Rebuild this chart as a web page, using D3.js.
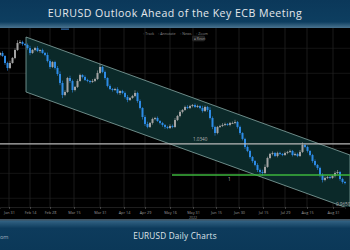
<!DOCTYPE html>
<html>
<head>
<meta charset="utf-8">
<script src="https://cdn.jsdelivr.net/npm/d3@7"></script>
<style>
html, body { margin: 0; padding: 0; background: #000; }
svg { display: block; font-family: "Open Sans", sans-serif; }
</style>
</head>
<body>
<svg id="chart" width="350" height="250"></svg>
<script>
// daily closes EURUSD (one per trading day shown)
var closes = [
  1.1351, 1.1318, 1.1240, 1.1185, 1.1240, 1.1296, 1.1384, 1.1462, 1.1473, 1.1451,
  1.1440, 1.1406, 1.1351, 1.1384, 1.1406, 1.1373, 1.1384, 1.1351, 1.1329, 1.1262,
  1.1196, 1.1251, 1.1185, 1.1118, 1.1019, 1.0886, 1.0919, 1.1074, 1.1041, 1.0941,
  1.0975, 1.1041, 1.1107, 1.1085, 1.1052, 1.1041, 1.1030, 1.1041, 1.1063, 1.1130,
  1.1196, 1.1141, 1.1074, 1.0986, 1.0952, 1.0941, 1.0952, 1.0908, 1.0930, 1.0908,
  1.0864, 1.0831, 1.0853, 1.0875, 1.0908, 1.0819, 1.0742, 1.0642, 1.0565, 1.0532,
  1.0576, 1.0620, 1.0631, 1.0598, 1.0576, 1.0554, 1.0532, 1.0520, 1.0543, 1.0532,
  1.0609, 1.0653, 1.0698, 1.0720, 1.0753, 1.0742, 1.0764, 1.0775, 1.0753, 1.0764,
  1.0742, 1.0709, 1.0753, 1.0720, 1.0631, 1.0532, 1.0465, 1.0532, 1.0543, 1.0554,
  1.0565, 1.0554, 1.0576, 1.0576, 1.0587, 1.0532, 1.0465, 1.0399, 1.0310, 1.0266,
  1.0199, 1.0155, 1.0111, 1.0055, 1.0033, 1.0022, 1.0089, 1.0188, 1.0233, 1.0244,
  1.0210, 1.0244, 1.0233, 1.0221, 1.0244, 1.0255, 1.0266, 1.0221, 1.0233, 1.0210,
  1.0255, 1.0332, 1.0310, 1.0266, 1.0221, 1.0155, 1.0111, 1.0078, 1.0000, 0.9945,
  0.9967, 0.9978, 0.9967, 0.9989, 1.0022, 1.0033, 0.9956, 0.9922, 0.9911
];
var firstOpen = 1.1330;

// wick length above / below the body, in pips
var wickHi = [
  12, 20, 8, 15, 25, 10, 18, 30, 22, 14,
  9, 16, 24, 11, 13, 20, 8, 15, 12, 27,
  18, 10, 14, 22, 30, 26, 19, 12, 25, 16,
  11, 20, 15, 9, 17, 13, 10, 21, 14, 28,
  35, 12, 16, 9, 18, 11, 14, 20, 8, 13,
  16, 22, 10, 12, 30, 14, 18, 9, 20, 25,
  11, 15, 13, 17, 9, 12, 10, 14, 19, 16,
  22, 12, 18, 10, 15, 20, 13, 11, 17, 14,
  9, 25, 16, 12, 30, 18, 14, 11, 13, 20,
  15, 10, 12, 16, 24, 11, 15, 9, 13, 18,
  14, 12, 10, 20, 16, 25, 28, 15, 12, 18,
  11, 14, 13, 10, 16, 12, 15, 11, 17, 14,
  22, 30, 12, 15, 10, 13, 18, 11, 14, 20,
  16, 12, 15, 11, 18, 22, 10, 14, 12
];
var wickLo = [
  15, 10, 22, 30, 12, 8, 14, 10, 16, 20,
  12, 18, 25, 10, 15, 12, 20, 9, 14, 16,
  22, 12, 18, 20, 25, 35, 14, 10, 22, 28,
  15, 12, 9, 16, 11, 14, 18, 10, 13, 12,
  10, 14, 20, 16, 12, 18, 10, 15, 22, 13,
  18, 25, 12, 10, 14, 20, 16, 28, 22, 15,
  12, 18, 14, 10, 16, 20, 22, 13, 11, 15,
  10, 12, 14, 16, 9, 13, 11, 15, 12, 10,
  14, 18, 12, 20, 16, 25, 30, 14, 12, 11,
  13, 10, 15, 12, 14, 18, 20, 16, 22, 14,
  18, 20, 15, 22, 25, 30, 12, 10, 14, 16,
  12, 15, 11, 13, 10, 14, 12, 16, 11, 13,
  10, 12, 14, 18, 15, 20, 16, 22, 25, 28,
  15, 12, 14, 10, 16, 12, 20, 18, 15
];

// x axis ticks (position in trading-day index) and labels
var tickIdx = [3.6, 12, 20, 29.6, 40, 49.6, 58, 68, 77.2, 86.4, 95.6, 105.2, 114, 122.8, 133.2];
var tickLabels = ["Jan 31", "Feb 14", "Feb 28", "Mar 15", "Mar 31", "Apr 14", "Apr 29", "May 16",
                  "May 31", "Jun 15", "Jun 30", "Jul 15", "Jul 29", "Aug 15", "Aug 31"];
var gridPrices = [1.1403, 1.1126, 1.0849, 1.0572, 1.0295, 1.0018, 0.9742];

// descending channel (index, upper, lower)
var chanIdx = [10.4, 140];
var chanUpper = [1.1528, 1.0221];
var chanLower = [1.0919, 0.9623];

var resistLevel = 1.0345;
var parityLevel = 1.0000;
var parityStart = 68.8;

var toolbarItems = ["Track", "Annotate", "News", "Zoom"];

var svg = d3.select("#chart");
var W = 350, H = 250;
var plotTop = 28, plotBottom = 219, axisY = 207;

var x = d3.scaleLinear().domain([0, closes.length - 1]).range([0, 345]);
var y = d3.scaleLinear().domain([0.96, 1.16]).range([211.1, 30.5]);

var defs = svg.append("defs");
var hg = defs.append("linearGradient").attr("id", "headG").attr("x1", 0).attr("y1", 0).attr("x2", 0).attr("y2", 1);
hg.append("stop").attr("offset", "0%").attr("stop-color", "#0b385a");
hg.append("stop").attr("offset", "78%").attr("stop-color", "#0d3e60");
hg.append("stop").attr("offset", "100%").attr("stop-color", "#4a7490");
var fg = defs.append("linearGradient").attr("id", "footG").attr("x1", 0).attr("y1", 0).attr("x2", 0).attr("y2", 1);
fg.append("stop").attr("offset", "0%").attr("stop-color", "#46515a");
fg.append("stop").attr("offset", "8%").attr("stop-color", "#2f5f80");
fg.append("stop").attr("offset", "30%").attr("stop-color", "#0d3b5c");
fg.append("stop").attr("offset", "100%").attr("stop-color", "#0b3858");
defs.append("clipPath").attr("id", "plotClip").append("rect")
    .attr("x", 0).attr("y", plotTop).attr("width", W).attr("height", axisY - plotTop);

// background
svg.append("rect").attr("width", W).attr("height", H).attr("fill", "#000");

// grid
var grid = svg.append("g");
grid.selectAll(".hg").data(gridPrices).enter().append("line")
    .attr("x1", 0).attr("x2", W)
    .attr("y1", function (d) { return y(d); }).attr("y2", function (d) { return y(d); })
    .attr("stroke", "#1d1d1d").attr("stroke-width", 0.7);
grid.selectAll(".vg").data(tickIdx).enter().append("line")
    .attr("x1", function (d) { return x(d); }).attr("x2", function (d) { return x(d); })
    .attr("y1", plotTop).attr("y2", axisY)
    .attr("stroke", "#262626").attr("stroke-width", 0.7);

var plot = svg.append("g").attr("clip-path", "url(#plotClip)");

// channel
var chanPts = [
    [x(chanIdx[0]), y(chanUpper[0])], [x(chanIdx[1]), y(chanUpper[1])],
    [x(chanIdx[1]), y(chanLower[1])], [x(chanIdx[0]), y(chanLower[0])]
];
plot.append("polygon")
    .attr("points", chanPts.map(function (p) { return p.join(","); }).join(" "))
    .attr("fill", "#0b2929").attr("stroke", "#86a8a4").attr("stroke-width", 0.8);

// candles
var candles = closes.map(function (c, i) {
    var o = i == 0 ? firstOpen : closes[i - 1];
    return {i: i, o: o, c: c, h: Math.max(o, c) + wickHi[i] / 10000, l: Math.min(o, c) - wickLo[i] / 10000};
});
var cg = plot.append("g");
candles.forEach(function (d) {
    var col = d.c >= d.o ? "#a3a3a3" : "#2d8be6";
    var cx = x(d.i);
    cg.append("line").attr("x1", cx).attr("x2", cx)
        .attr("y1", y(d.h)).attr("y2", y(d.l))
        .attr("stroke", col).attr("stroke-width", 0.6);
    var top = y(Math.max(d.o, d.c)), bot = y(Math.min(d.o, d.c));
    cg.append("rect").attr("x", cx - 1).attr("width", 2)
        .attr("y", top).attr("height", Math.max(0.9, bot - top))
        .attr("fill", col);
});

// horizontal levels
plot.append("line").attr("x1", 0).attr("x2", W)
    .attr("y1", y(resistLevel)).attr("y2", y(resistLevel))
    .attr("stroke", "#b9b9b9").attr("stroke-width", 1.3);
plot.append("line").attr("x1", x(parityStart)).attr("x2", W)
    .attr("y1", y(parityLevel)).attr("y2", y(parityLevel))
    .attr("stroke", "#3cb43c").attr("stroke-width", 1.3);

var lblStyle = function (t) { return t.attr("font-size", 4.6).attr("fill", "#b5b5b5"); };
lblStyle(svg.append("text").attr("x", 193).attr("y", y(resistLevel) - 2.5).text("1.0340"));
lblStyle(svg.append("text").attr("x", 228).attr("y", y(parityLevel) + 6).text("1"));
lblStyle(svg.append("text").attr("x", 336).attr("y", 206).attr("fill", "#9fb5b2").text("0.9650"));

// x axis
var xAxis = d3.axisBottom(x).tickValues(tickIdx)
    .tickFormat(function (d, i) { return tickLabels[i]; })
    .tickSize(2).tickPadding(2);
var ax = svg.append("g").attr("transform", "translate(0," + axisY + ")").call(xAxis);
ax.select(".domain").attr("stroke", "#333").attr("stroke-width", 0.6);
ax.selectAll(".tick line").attr("stroke", "#777").attr("stroke-width", 0.5);
ax.selectAll(".tick text").attr("fill", "#9a9a9a").attr("font-size", 3.8)
    .attr("font-family", "Open Sans, sans-serif");
svg.append("text").attr("x", x(77.2)).attr("y", 218.5).attr("text-anchor", "middle")
    .attr("font-size", 3.6).attr("fill", "#8a8a8a").text("2022");

// toolbar
var tb = svg.append("g");
var tbX = [143, 158, 180, 196];
toolbarItems.forEach(function (t, i) {
    tb.append("text").attr("x", tbX[i]).attr("y", 34.5).attr("font-size", 3.6)
        .attr("fill", "#8a8a8a").text("\u25E6 " + t);
});
tb.append("rect").attr("x", 192.5).attr("y", 36).attr("width", 12).attr("height", 5)
    .attr("rx", 0.8).attr("fill", "#202020").attr("stroke", "#3a3a3a").attr("stroke-width", 0.4);
tb.append("text").attr("x", 194).attr("y", 39.6).attr("font-size", 3.3)
    .attr("fill", "#9a9a9a").text("\u25CF Reset");
svg.append("rect").attr("x", 61).attr("y", 28.5).attr("width", 8).attr("height", 1.2).attr("fill", "#2f6db0");

// header
svg.append("rect").attr("x", 0).attr("y", 0).attr("width", W).attr("height", plotTop).attr("fill", "url(#headG)");
svg.append("text").attr("x", W / 2).attr("y", 17).attr("text-anchor", "middle")
    .attr("font-size", 10.6).attr("letter-spacing", 0.45).attr("fill", "#e4e8ec")
    .text("EURUSD Outlook Ahead of the Key ECB Meeting");

// footer
svg.append("rect").attr("x", 0).attr("y", plotBottom).attr("width", W).attr("height", H - plotBottom).attr("fill", "url(#footG)");
svg.append("text").attr("x", W / 2).attr("y", 238.5).attr("text-anchor", "middle")
    .attr("font-size", 8.2).attr("letter-spacing", 0.2).attr("fill", "#dfe5ea")
    .text("EURUSD Daily Charts");
svg.append("text").attr("x", 8.5).attr("y", 239).attr("text-anchor", "end")
    .attr("font-size", 5.6).attr("fill", "#9fb0bd").text("dailyforex.com");
</script>
</body>
</html>
